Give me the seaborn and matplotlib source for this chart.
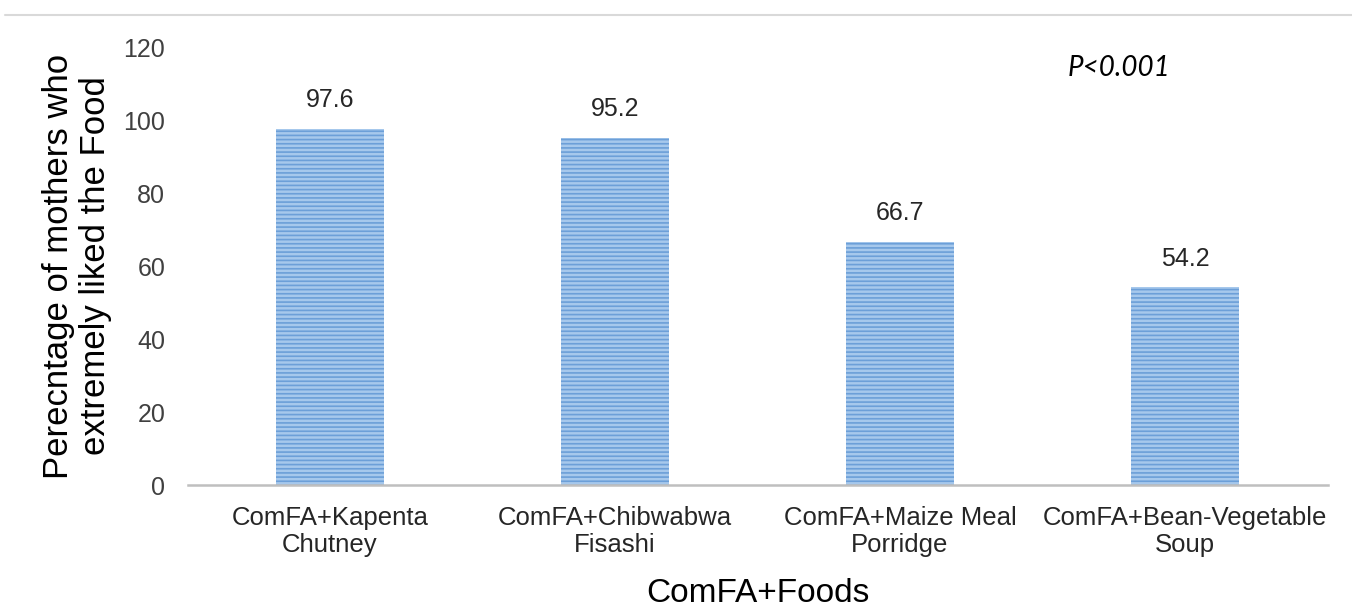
import matplotlib
matplotlib.use("Agg")
import matplotlib.pyplot as plt
import seaborn as sns
from matplotlib.lines import Line2D

categories = ["ComFA+Kapenta\nChutney", "ComFA+Chibwabwa\nFisashi",
              "ComFA+Maize Meal\nPorridge", "ComFA+Bean-Vegetable\nSoup"]
values = [97.6, 95.2, 66.7, 54.2]
yticks = [0, 20, 40, 60, 80, 100, 120]

sns.set_theme(style="white")
plt.rcParams['font.family'] = ['Liberation Sans', 'DejaVu Sans']
plt.rcParams['hatch.linewidth'] = 1.2

fig = plt.figure(figsize=(13.52, 6.13), dpi=100)
ax = fig.add_axes([0.1387, 0.2088, 0.8432, 0.7145])

sns.barplot(x=categories, y=values, color="#a6c8ec", width=0.38, ax=ax, saturation=1)
for p in ax.patches:
    p.set_hatch('----')
    p.set_edgecolor('#6c9fd8')
    p.set_linewidth(0)

ax.set_ylim(0, 120)
ax.set_xlim(-0.5, 3.5)
ax.set_yticks(yticks)
ax.set_yticklabels([str(t) for t in yticks])
for s in ['left', 'top', 'right']:
    ax.spines[s].set_visible(False)
ax.spines['bottom'].set_color('#bfbfbf')
ax.spines['bottom'].set_linewidth(1.8)
ax.tick_params(axis='y', length=0, pad=16, labelsize=18, labelcolor='#404040')
ax.tick_params(axis='x', length=0, pad=15, labelsize=18.5, labelcolor='#262626')
for lbl in ax.get_xticklabels():
    lbl.set_linespacing(1.15)

for i, v in enumerate(values):
    ax.annotate(f"{v:.1f}", (i, v), xytext=(0, 12), textcoords='offset points',
                ha='center', va='bottom', fontsize=18, color='#262626')

ax.set_xlabel("ComFA+Foods", fontsize=24, color='#000000', labelpad=15)
ax.set_ylabel("Perecntage of mothers who\nextremely liked the Food", fontsize=25,
              color='#000000', labelpad=8, linespacing=1.15)

ax.text(0.772, 0.952, "P<0.001", transform=ax.transAxes, fontsize=20,
        style='italic', family=['Lato', 'DejaVu Sans'], color='#000000',
        ha='left', va='center')

fig.add_artist(Line2D([0.004, 1.0], [0.975, 0.975], transform=fig.transFigure,
                      color='#d9d9d9', linewidth=1.5))

fig.savefig("out.png", dpi=100)
